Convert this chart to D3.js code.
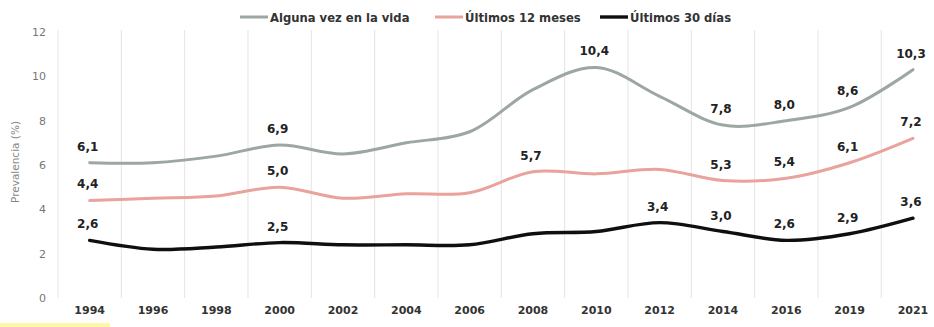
<!DOCTYPE html>
<html>
<head>
<meta charset="utf-8">
<script src="https://cdn.jsdelivr.net/npm/d3@7"></script>
<style>
  html, body { margin: 0; padding: 0; background: #fff; }
  svg { display: block; }
</style>
</head>
<body>
<svg id="chart" width="934" height="327"></svg>
<script>
// Survey years (evenly spaced categories)
const years = ["1994","1996","1998","2000","2002","2004","2006","2008","2010","2012","2014","2016","2019","2021"];

// Prevalence (%) by period
const alguna = [6.1, 6.1, 6.4, 6.9, 6.5, 7.0, 7.5, 9.4, 10.4, 9.1, 7.8, 8.0, 8.6, 10.3];
const ultimos12 = [4.4, 4.5, 4.6, 5.0, 4.5, 4.7, 4.75, 5.7, 5.6, 5.8, 5.3, 5.4, 6.1, 7.2];
const ultimos30 = [2.6, 2.2, 2.3, 2.5, 2.4, 2.4, 2.4, 2.9, 3.0, 3.4, 3.0, 2.6, 2.9, 3.6];

// Which years carry a value label, per series
const labelsAlguna = ["1994","2000","2010","2014","2016","2019","2021"];
const labels12 = ["1994","2000","2008","2014","2016","2019","2021"];
const labels30 = ["1994","2000","2012","2014","2016","2019","2021"];

const yTicks = [0, 2, 4, 6, 8, 10, 12];

const seriesNames = ["Alguna vez en la vida", "Últimos 12 meses", "Últimos 30 días"];

const series = [
  { name: seriesNames[0], values: alguna, labels: labelsAlguna, color: "#9da7a1", width: 3 },
  { name: seriesNames[1], values: ultimos12, labels: labels12, color: "#eaa29c", width: 3 },
  { name: seriesNames[2], values: ultimos30, labels: labels30, color: "#0f0f0f", width: 3.4 }
];

const svg = d3.select("#chart");
const font = "'DejaVu Sans', sans-serif";

const x = d3.scaleBand().domain(years).range([58, 58 + 14 * 63.33]);
const y = d3.scaleLinear().domain([0, 12]).range([298, 32]);
const cx = d => x(d) + x.bandwidth() / 2;

const fmt = d3.formatLocale({ decimal: ",", thousands: ".", grouping: [3], currency: ["", ""] }).format(".1f");

// Vertical category separators
svg.append("g")
  .selectAll("line")
  .data(years)
  .join("line")
  .attr("x1", d => x(d)).attr("x2", d => x(d))
  .attr("y1", y(12) - 2).attr("y2", y(0))
  .attr("stroke", "#e4e4e4")
  .attr("stroke-width", 1);

// Y axis (labels only)
const yAxis = svg.append("g")
  .attr("transform", "translate(46,0)")
  .call(d3.axisLeft(y).tickValues(yTicks).tickSize(0).tickPadding(0).tickFormat(d3.format("d")));
yAxis.select(".domain").remove();
yAxis.selectAll("text")
  .attr("font-family", font)
  .attr("font-size", 11)
  .attr("fill", "#777");

// Y axis title
svg.append("text")
  .attr("transform", "translate(19,162) rotate(-90)")
  .attr("text-anchor", "middle")
  .attr("font-family", font)
  .attr("font-size", 10.5)
  .attr("fill", "#888")
  .text("Prevalencia (%)");

// X axis (labels only)
const xAxis = svg.append("g")
  .attr("transform", "translate(0,306)")
  .call(d3.axisBottom(x).tickSize(0).tickPadding(0));
xAxis.select(".domain").remove();
xAxis.selectAll("text")
  .attr("dy", "0.71em")
  .attr("font-family", font)
  .attr("font-size", 11)
  .attr("font-weight", "bold")
  .attr("fill", "#333");

// Lines
const line = d3.line()
  .x(d => cx(d.year))
  .y(d => y(d.value))
  .curve(d3.curveCatmullRom.alpha(0.5));

series.forEach(s => {
  const pts = years.map((yr, i) => ({ year: yr, value: s.values[i] }));
  svg.append("path")
    .datum(pts)
    .attr("d", line)
    .attr("fill", "none")
    .attr("stroke", s.color)
    .attr("stroke-width", s.width)
    .attr("stroke-linecap", "round")
    .attr("stroke-linejoin", "round");

  svg.append("g")
    .selectAll("text")
    .data(pts.filter(p => s.labels.includes(p.year)))
    .join("text")
    .attr("x", d => cx(d.year) - 2)
    .attr("y", d => y(d.value) - 12)
    .attr("text-anchor", "middle")
    .attr("font-family", font)
    .attr("font-size", 12)
    .attr("font-weight", "bold")
    .attr("fill", "#222")
    .text(d => fmt(d.value));
});

// Legend
const legendX = [240, 435, 600];
const legend = svg.append("g");
series.forEach((s, i) => {
  const g = legend.append("g").attr("transform", `translate(${legendX[i]},17)`);
  g.append("line")
    .attr("x1", 0).attr("x2", 28)
    .attr("y1", 0).attr("y2", 0)
    .attr("stroke", s.color)
    .attr("stroke-width", s.width);
  g.append("text")
    .attr("x", 30)
    .attr("y", 4.5)
    .attr("font-family", font)
    .attr("font-size", 11.6)
    .attr("font-weight", "bold")
    .attr("fill", "#333")
    .text(s.name);
});

// Pale yellow strip along the lower-left edge
svg.append("rect")
  .attr("x", 0).attr("y", 323)
  .attr("width", 110).attr("height", 4)
  .attr("fill", "#fdf7a6");
</script>
</body>
</html>
